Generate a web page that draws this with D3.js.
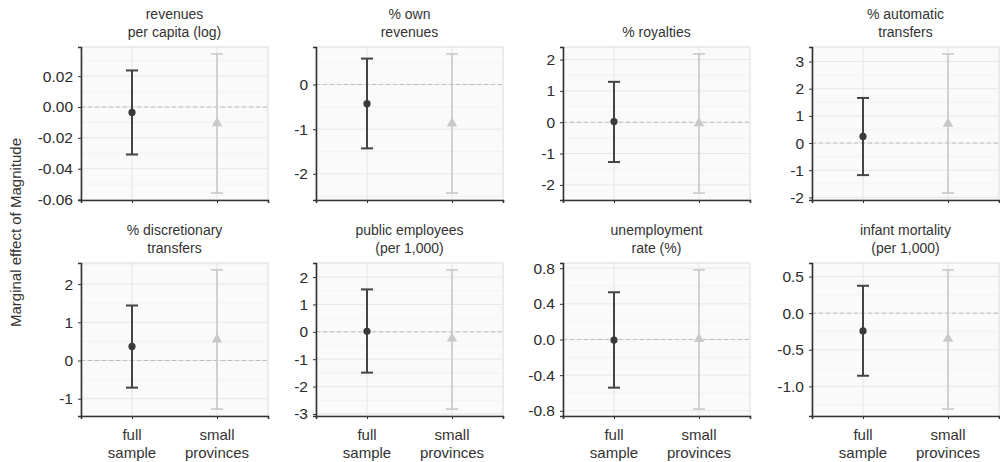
<!DOCTYPE html>
<html lang="en">
<head>
    <meta charset="UTF-8">
    <title>Marginal effect of Magnitude</title>
    <style>
        body { margin: 0; background: #fff; }
        svg text { font-family: "Liberation Sans", Arial, sans-serif; fill: #333; }
        .title { font-size: 14px; text-anchor: middle; }
        .tick-label { font-size: 15.5px; text-anchor: end; fill: #2b2b2b; }
        .x-label { font-size: 15px; text-anchor: middle; }
        .y-title { font-size: 15px; text-anchor: middle; }
    </style>
</head>
<body>
    <div id="chart"></div>
    <script src="https://d3js.org/d3.v7.min.js"></script>
    <script>
        // one entry per panel
        const titles = [
            ["revenues", "per capita (log)"],
            ["% own", "revenues"],
            ["% royalties"],
            ["% automatic", "transfers"],
            ["% discretionary", "transfers"],
            ["public employees", "(per 1,000)"],
            ["unemployment", "rate (%)"],
            ["infant mortality", "(per 1,000)"]
        ];
        const samples = ["full sample", "small provinces"];
        const sampleLines = [["full", "sample"], ["small", "provinces"]];

        const estFull  = [-0.0035, -0.43, 0.02, 0.245, 0.37, 0.02, -0.007, -0.243];
        const lowFull  = [-0.0308, -1.43, -1.27, -1.18, -0.71, -1.49, -0.54, -0.855];
        const highFull = [0.0237, 0.58, 1.29, 1.66, 1.44, 1.55, 0.53, 0.374];

        const estSmall  = [-0.0105, -0.87, -0.03, 0.71, 0.55, -0.24, 0.005, -0.35];
        const lowSmall  = [-0.0558, -2.43, -2.26, -1.84, -1.27, -2.82, -0.78, -1.31];
        const highSmall = [0.0344, 0.684, 2.18, 3.28, 2.37, 2.26, 0.78, 0.59];

        const yTicks = [
            [0.02, 0.00, -0.02, -0.04, -0.06],
            [0, -1, -2],
            [2, 1, 0, -1, -2],
            [3, 2, 1, 0, -1, -2],
            [2, 1, 0, -1],
            [2, 1, 0, -1, -2, -3],
            [0.8, 0.4, 0.0, -0.4, -0.8],
            [0.5, 0.0, -0.5, -1.0]
        ];
        const tickDigits = [2, 0, 0, 0, 0, 0, 1, 1];

        const W = 1000, H = 462;
        const colLeft = [81, 316, 563, 812];
        const rowTop = [47, 263];
        const pw = 187, ph = 153;

        const darkCol = "#444444", lightCol = "#c9c9c9";

        const svg = d3.select("#chart").append("svg")
            .attr("width", W)
            .attr("height", H);

        svg.append("text")
            .attr("class", "y-title")
            .attr("transform", `translate(21,${(rowTop[0] + rowTop[1] + ph) / 2 + 1}) rotate(-90)`)
            .text("Marginal effect of Magnitude");

        titles.forEach((t, i) => {
            const col = i % 4, row = Math.floor(i / 4);
            const g = svg.append("g")
                .attr("transform", `translate(${colLeft[col]},${rowTop[row]})`);

            const x = d3.scalePoint()
                .domain(samples)
                .range([0, pw])
                .padding(0.6);

            const lo = Math.min(lowFull[i], lowSmall[i]);
            const hi = Math.max(highFull[i], highSmall[i]);
            const pad = (hi - lo) * 0.05;
            const y = d3.scaleLinear()
                .domain([lo - pad, hi + pad])
                .range([ph, 0]);

            const ticks = yTicks[i];
            const step = Math.abs(ticks[0] - ticks[1]);
            const minors = [];
            for (let k = -1; k < ticks.length; k++) {
                const m = (k < 0 ? ticks[0] + step : ticks[k]) - step / 2;
                if (m > y.domain()[0] && m < y.domain()[1]) minors.push(m);
            }

            g.append("rect")
                .attr("width", pw)
                .attr("height", ph)
                .attr("fill", "#fafafa")
                .attr("stroke", "#dcdcdc")
                .attr("stroke-width", 1);

            g.selectAll("line.minor")
                .data(minors)
                .enter().append("line")
                .attr("x1", 0).attr("x2", pw)
                .attr("y1", d => y(d)).attr("y2", d => y(d))
                .attr("stroke", "#f0f0f0")
                .attr("stroke-width", 0.8);

            g.selectAll("line.major")
                .data(ticks)
                .enter().append("line")
                .attr("x1", 0).attr("x2", pw)
                .attr("y1", d => y(d)).attr("y2", d => y(d))
                .attr("stroke", "#e6e6e6")
                .attr("stroke-width", 1);

            g.selectAll("line.vmajor")
                .data(samples)
                .enter().append("line")
                .attr("x1", d => x(d)).attr("x2", d => x(d))
                .attr("y1", 0).attr("y2", ph)
                .attr("stroke", "#e6e6e6")
                .attr("stroke-width", 1);

            // zero line
            g.append("line")
                .attr("x1", 0).attr("x2", pw)
                .attr("y1", y(0)).attr("y2", y(0))
                .attr("stroke", "#bdbdbd")
                .attr("stroke-width", 1)
                .attr("stroke-dasharray", "4,3");

            // axes
            const yAxis = g.append("g")
                .call(d3.axisLeft(y).tickValues(ticks).tickSize(3).tickPadding(5)
                    .tickFormat(d => d3.format(`.${tickDigits[i]}f`)(d).replace("−", "-")));
            yAxis.select(".domain").attr("stroke", "#333").attr("stroke-width", 1.6);
            yAxis.selectAll(".tick line").attr("stroke", "#333");
            yAxis.selectAll(".tick text")
                .attr("class", "tick-label")
                .attr("fill", null)
                .attr("font-size", null)
                .attr("font-family", null);
            yAxis.attr("font-size", null).attr("font-family", null);

            const xAxis = g.append("g")
                .attr("transform", `translate(0,${ph})`)
                .call(d3.axisBottom(x).tickSize(3).tickFormat(""));
            xAxis.select(".domain").attr("stroke", "#333").attr("stroke-width", 1.6);
            xAxis.selectAll(".tick line").attr("stroke", "#333");

            if (row === 1) {
                samples.forEach((s, j) => {
                    sampleLines[j].forEach((ln, k) => {
                        g.append("text")
                            .attr("class", "x-label")
                            .attr("x", x(s))
                            .attr("y", ph + 24 + k * 17.5)
                            .text(ln);
                    });
                });
            }

            // title
            const n = t.length;
            t.forEach((ln, k) => {
                g.append("text")
                    .attr("class", "title")
                    .attr("x", pw / 2)
                    .attr("y", -10 - (n - 1 - k) * 18.5)
                    .text(ln);
            });

            // estimates
            const est = [
                { s: samples[0], e: estFull[i], lo: lowFull[i], hi: highFull[i], c: darkCol, w: 2 },
                { s: samples[1], e: estSmall[i], lo: lowSmall[i], hi: highSmall[i], c: lightCol, w: 1.6 }
            ];

            est.forEach(d => {
                const cx = x(d.s);
                g.append("line")
                    .attr("x1", cx).attr("x2", cx)
                    .attr("y1", y(d.lo)).attr("y2", y(d.hi))
                    .attr("stroke", d.c).attr("stroke-width", d.w);
                [d.lo, d.hi].forEach(v => {
                    g.append("line")
                        .attr("x1", cx - 6).attr("x2", cx + 6)
                        .attr("y1", y(v)).attr("y2", y(v))
                        .attr("stroke", d.c).attr("stroke-width", d.w);
                });
            });

            g.append("circle")
                .attr("cx", x(samples[0]))
                .attr("cy", y(estFull[i]))
                .attr("r", 3.6)
                .attr("fill", "#3a3a3a");

            g.append("path")
                .attr("d", d3.symbol().type(d3.symbolTriangle).size(48)())
                .attr("transform", `translate(${x(samples[1])},${y(estSmall[i])})`)
                .attr("fill", lightCol);
        });
    </script>
</body>
</html>
